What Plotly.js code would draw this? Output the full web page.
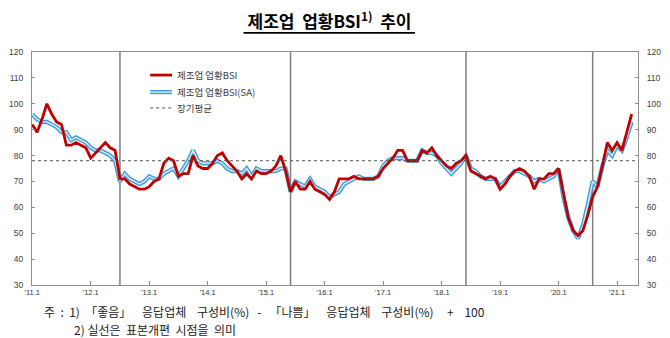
<!DOCTYPE html>
<html>
<head>
<meta charset="utf-8">
<script src="https://cdn.plot.ly/plotly-3.0.1.min.js"></script>
<style>
  html, body { margin: 0; padding: 0; background: #fff; }
  #chart { width: 670px; height: 338px; }
</style>
</head>
<body>
<div id="chart"></div>
<script>
// Manufacturing business-conditions BSI, monthly, 2011.1 – 2021.4
const bsi = [
  92, 89, 94, 100, 96, 93, 92, 84, 84, 85, 84, 83,      // 2011
  79, 81, 83, 85, 83, 82, 71, 71, 69, 68, 67, 67,       // 2012
  68, 70, 71, 77, 79, 78, 72, 73, 73, 80, 76, 75,       // 2013
  75, 77, 80, 81, 78, 76, 74, 71, 73, 71, 74, 73,       // 2014
  73, 74, 76, 80, 74, 66, 70, 67, 67, 70, 67, 66,       // 2015
  65, 63, 66, 71, 71, 71, 72, 71, 71, 71, 71, 72,       // 2016
  75, 77, 79, 82, 82, 78, 78, 78, 82, 81, 83, 80,       // 2017
  78, 76, 75, 77, 78, 80, 74, 73, 72, 71, 72, 71,       // 2018
  67, 69, 72, 74, 75, 74, 72, 67, 71, 71, 73, 73,       // 2019
  75, 65, 56, 51, 49, 51, 57, 64, 68, 76, 85, 82,       // 2020
  85, 82, 89, 96                                        // 2021
];

// Seasonally adjusted series
const bsiSA = [
  96, 94, 93, 93, 92, 91, 89, 89, 86, 87, 86, 85,       // 2011
  83, 82, 82, 81, 80, 78, 70, 73, 71, 70, 69, 70,       // 2012
  72, 71, 71, 73, 74, 75, 72, 75, 78, 82, 78, 77,       // 2013
  77, 77, 78, 77, 75, 74, 74, 73, 75, 72, 75, 74,       // 2014
  74, 74, 74, 75, 75, 66, 70, 69, 68, 71, 68, 67,       // 2015
  66, 64, 65, 66, 69, 70, 71, 72, 71, 71, 71, 72,       // 2016
  76, 78, 79, 79, 79, 78, 78, 78, 82, 81, 81, 80,       // 2017
  77, 75, 73, 75, 77, 80, 75, 74, 72, 71, 71, 71,       // 2018
  68, 70, 72, 74, 74, 73, 72, 70, 71, 70, 71, 72,       // 2019
  75, 64, 56, 51, 48, 53, 61, 70, 68, 76, 82, 80,       // 2020
  84, 82, 87, 93                                        // 2021
];

const longTermAvg = 78;

// Series names
const seriesNames = ['제조업 업황BSI', '제조업 업황BSI(SA)', '장기평균'];

// Year tick labels (every January)
const yearTicks = ["'11.1", "'12.1", "'13.1", "'14.1", "'15.1", "'16.1",
                   "'17.1", "'18.1", "'19.1", "'20.1", "'21.1"];

// Sample-revision months (index from 2011.1): 2012.7, 2015.6, 2018.6, 2020.8
const revisionMonths = [18, 53, 89, 115];

// Footnote lines
const notes = [
  '주  :  1)  「좋음」    응답업체    구성비(%)   -   「나쁨」    응답업체    구성비(%)     +    100',
  '2) 실선은  표본개편  시점을  의미'
];

const idx = bsi.map((_, i) => i);
const tickVals = yearTicks.map((_, k) => k * 12);
const xRange = [-0.05, 124.3];
const yRange = [30, 120];

const krFont = '"Noto Sans CJK KR", "Noto Sans", sans-serif';
const numFont = '"Liberation Sans", Arial, sans-serif';

// line styles
const redLine = { color: '#c00000', width: 2.8 };
const saOuter = { color: '#3f9bd8', width: 4.2 };
const saInner = { color: '#d9eefb', width: 1.4 };
const avgLine = { color: '#555555', width: 1, dash: 'dot' };

const traces = [
  { x: idx, y: bsiSA, type: 'scatter', mode: 'lines', name: seriesNames[1],
    line: saOuter, hoverinfo: 'skip' },
  { x: idx, y: bsiSA, type: 'scatter', mode: 'lines', name: seriesNames[1],
    line: saInner, hoverinfo: 'skip' },
  { x: idx, y: bsi, type: 'scatter', mode: 'lines', name: seriesNames[0],
    line: redLine },
  { x: xRange, y: [longTermAvg, longTermAvg], type: 'scatter', mode: 'lines',
    name: seriesNames[2], yaxis: 'y2', line: avgLine, hoverinfo: 'skip' }
];

const shapes = revisionMonths.map(m => ({
  type: 'line', xref: 'x', yref: 'paper', x0: m, x1: m, y0: 0, y1: 1,
  line: { color: '#7f7f7f', width: 1.5 }, layer: 'below'
}));

// underline beneath the title
shapes.push({
  type: 'line', xref: 'paper', yref: 'paper',
  x0: 0.349, x1: 0.632, y0: 1.082, y1: 1.082,
  line: { color: '#000', width: 1.6 }
});

// legend: line samples + labels
const legendRows = [
  { name: seriesNames[0], styles: [redLine], y: 0.901 },
  { name: seriesNames[1], styles: [saOuter, saInner], y: 0.828 },
  { name: seriesNames[2], styles: [avgLine], y: 0.760 }
];
const legX0 = 0.195, legX1 = 0.231, legTextX = 0.236;
const annotations = [];
legendRows.forEach(row => {
  row.styles.forEach(st => shapes.push({
    type: 'line', xref: 'paper', yref: 'paper',
    x0: legX0, x1: legX1, y0: row.y, y1: row.y, line: st
  }));
  annotations.push({
    xref: 'paper', yref: 'paper', x: legTextX, y: row.y,
    xanchor: 'left', yanchor: 'middle', showarrow: false,
    text: row.name, font: { family: krFont, size: 9.5, color: '#404040' }
  });
});

// footnote, two lines
const noteFont = { family: krFont, size: 12, color: '#222' };
annotations.push({
  xref: 'paper', yref: 'paper', x: 0.016, y: -0.112,
  xanchor: 'left', yanchor: 'middle', showarrow: false,
  text: notes[0], font: noteFont
});
annotations.push({
  xref: 'paper', yref: 'paper', x: 0.066, y: -0.1905,
  xanchor: 'left', yanchor: 'middle', showarrow: false,
  text: notes[1], font: noteFont
});

const axisLine = '#8f8f8f';
const tickFont = { family: numFont, size: 8.5, color: '#404040' };

const layout = {
  width: 670, height: 338,
  margin: { l: 32, r: 32, t: 52, b: 53, pad: 0 },
  paper_bgcolor: '#fff', plot_bgcolor: '#fff',
  showlegend: false,
  title: {
    text: '<b>제조업  업황BSI<sup>1)</sup>  추이</b>',
    font: { family: krFont, size: 17, color: '#000' },
    x: 0.491, xanchor: 'center', xref: 'paper',
    y: 0.935, yanchor: 'middle', yref: 'container'
  },
  xaxis: {
    range: xRange, showgrid: false, zeroline: false,
    tickmode: 'array', tickvals: tickVals, ticktext: yearTicks,
    ticks: 'inside', ticklen: 4, tickwidth: 1, tickcolor: axisLine,
    showline: true, linecolor: axisLine, linewidth: 1, mirror: true,
    tickfont: { family: numFont, size: 7.5, color: '#333' }
  },
  yaxis: {
    range: yRange, dtick: 10, showgrid: false, zeroline: false,
    ticks: 'inside', ticklen: 3, tickcolor: axisLine,
    showline: true, linecolor: axisLine, linewidth: 1,
    tickfont: tickFont, ticklabelstandoff: 6
  },
  yaxis2: {
    range: yRange, dtick: 10, overlaying: 'y', side: 'right',
    showgrid: false, zeroline: false,
    ticks: 'inside', ticklen: 3, tickcolor: axisLine,
    showline: true, linecolor: axisLine, linewidth: 1,
    tickfont: tickFont, ticklabelstandoff: 6
  },
  shapes: shapes,
  annotations: annotations
};

Plotly.newPlot('chart', traces, layout, { displayModeBar: false, staticPlot: true });
</script>
</body>
</html>
